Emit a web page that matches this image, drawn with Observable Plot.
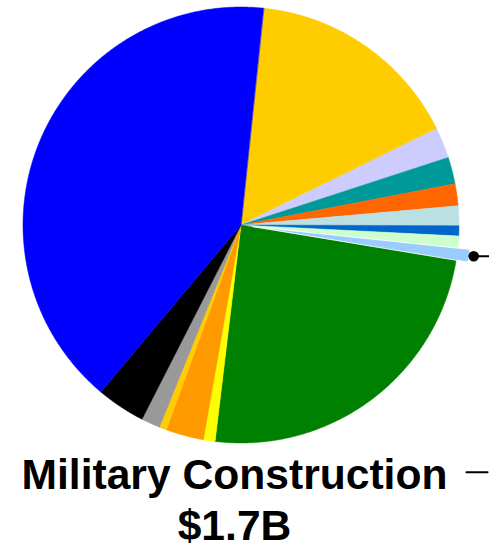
<!DOCTYPE html>
<html>
<head>
<meta charset="utf-8">
<script src="https://cdn.jsdelivr.net/npm/d3@7"></script>
<script src="https://cdn.jsdelivr.net/npm/@observablehq/plot@0.6"></script>
<style>
  html, body { margin: 0; padding: 0; background: #ffffff; overflow: hidden; }
</style>
</head>
<body>
<div id="chart"></div>
<script>
// ---- data (values in $B) ----
const categories = [
  "Segment A", "Segment B", "Segment C", "Segment D", "Segment E",
  "Segment F", "Segment G", "Military Construction", "Segment H", "Segment I",
  "Segment J", "Segment K", "Segment L", "Segment M", "Segment N"
];
const values = [29.8, 4.2, 3.7, 3.0, 2.7, 1.4, 1.6, 1.7, 45.1, 1.6, 5.2, 1.0, 2.6, 6.7, 75.2];
const colors = [
  "#ffcc00", "#ccccff", "#009999", "#ff6600", "#bbe0e3",
  "#0066cc", "#ccffcc", "#99ccff", "#008000", "#ffff00",
  "#ff9900", "#ffcc00", "#999999", "#000000", "#0000ff"
];
const highlighted = "Military Construction";
const highlightLabel = "Military Construction\n$1.7B";

// ---- layout settings ----
const startDeg = 5.96;
const explodeOffset = 0.055;

const rows = categories.map((c, i) => ({category: c, value: values[i], color: colors[i]}));
const start = startDeg * Math.PI / 180;
const arcs = d3.pie().sort(null).value(d => d.value).startAngle(start).endAngle(start + 2 * Math.PI)(rows);

const pts = [];
let hiMid = 0;
for (const a of arcs) {
  const isHi = a.data.category === highlighted;
  const mid = (a.startAngle + a.endAngle) / 2;
  if (isHi) hiMid = mid;
  const off = isHi ? explodeOffset : 0;
  const cx = off * Math.sin(mid), cy = off * Math.cos(mid);
  const key = a.data.category;
  pts.push({key, color: a.data.color, hi: isHi, x: cx, y: cy});
  const n = Math.max(2, Math.ceil((a.endAngle - a.startAngle) / (0.4 * Math.PI / 180)));
  for (let k = 0; k <= n; k++) {
    const t = a.startAngle + (a.endAngle - a.startAngle) * k / n;
    pts.push({key, color: a.data.color, hi: isHi, x: cx + Math.sin(t), y: cy + Math.cos(t)});
  }
}
const normalPts = pts.filter(d => !d.hi);
const hiPts = pts.filter(d => d.hi);

const dotR = 1 + explodeOffset + 0.022;
const dotPos = [{x: dotR * Math.sin(hiMid), y: dotR * Math.cos(hiMid)}];
const leader = [dotPos[0], {x: 1.3, y: dotPos[0].y}];
const labelDash = [{x: 1.034, y: -1.134}, {x: 1.131, y: -1.134}];

const chart = Plot.plot({
  width: 489,
  height: 547,
  margin: 0,
  x: {domain: [-1, 1], range: [22.5, 458.5], axis: null},
  y: {domain: [-1, 1], range: [442.5, 6.5], axis: null},
  color: {type: "identity"},
  style: {fontFamily: "'Liberation Sans', Arial, sans-serif", background: "#ffffff", overflow: "hidden"},
  marks: [
    Plot.line(normalPts, {x: "x", y: "y", z: "key", fill: "color", stroke: "color", strokeWidth: 0.5, curve: "linear-closed"}),
    Plot.line(hiPts, {x: "x", y: "y", z: "key", fill: "color", stroke: "#ffffff", strokeWidth: 0.8, curve: "linear-closed"}),
    Plot.line(leader, {x: "x", y: "y", stroke: "#000000", strokeWidth: 2}),
    Plot.dot(dotPos, {x: "x", y: "y", r: 5.3, fill: "#000000", stroke: "none"}),
    Plot.line(labelDash, {x: "x", y: "y", stroke: "#000000", strokeWidth: 2}),
    Plot.text([highlightLabel], {
      frameAnchor: "bottom", text: d => d, fontSize: 42.6, fontWeight: "bold",
      lineHeight: 1.197, lineAnchor: "bottom", dx: -10.5, dy: -7.5, fill: "#000000"
    })
  ]
});
document.getElementById("chart").appendChild(chart);
</script>
</body>
</html>
